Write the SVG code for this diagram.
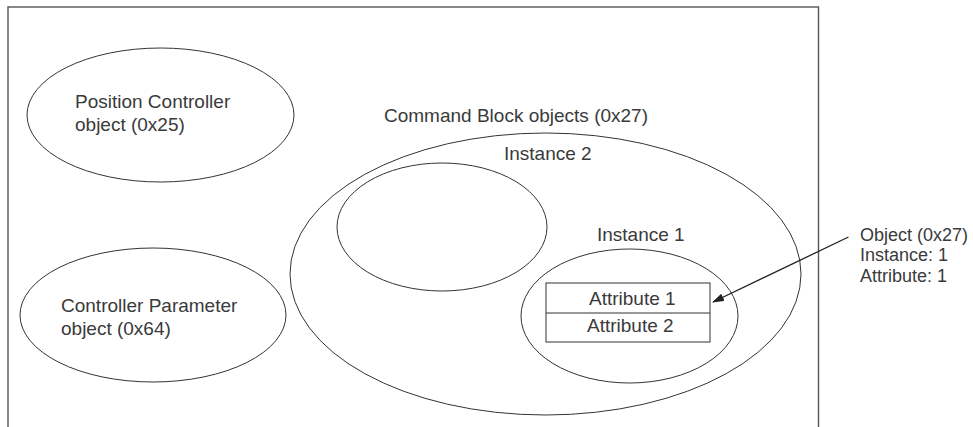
<svg xmlns="http://www.w3.org/2000/svg" width="973" height="427" viewBox="0 0 973 427">
<style>
.sh{fill:none;stroke:#333;stroke-width:1}
.fr{fill:none;stroke:#555;stroke-width:1.4}
.t{font-family:"Liberation Sans",Arial,sans-serif;font-size:19px;fill:#3a3a3a}
.ts{font-family:"Liberation Sans",Arial,sans-serif;font-size:18px;fill:#3a3a3a}
</style>
<defs>
<marker id="ah" markerWidth="12" markerHeight="10" refX="11" refY="4" orient="auto" markerUnits="userSpaceOnUse">
<path d="M0,0 L12,4 L0,8 Z" fill="#222"/>
</marker>
</defs>
<rect x="8" y="7" width="810.5" height="430" class="fr"/>
<g id="position-controller">
<ellipse cx="160.5" cy="115" rx="133.5" ry="67" class="sh"/>
<text class="t" x="75" y="107.5">Position Controller</text>
<text class="t" x="75" y="131">object (0x25)</text>
</g>
<g id="controller-parameter">
<ellipse cx="153" cy="315" rx="133" ry="67" class="sh"/>
<text class="t" x="61" y="311.5">Controller Parameter</text>
<text class="t" x="61" y="335">object (0x64)</text>
</g>
<g id="command-block">
<text class="t" x="384" y="122">Command Block objects (0x27)</text>
<ellipse cx="545.5" cy="274" rx="255.5" ry="141" class="sh"/>
</g>
<g id="instance-2">
<text class="t" x="504" y="160">Instance 2</text>
<ellipse cx="442" cy="227" rx="105" ry="64" class="sh"/>
</g>
<g id="instance-1">
<text class="t" x="597" y="241">Instance 1</text>
<ellipse cx="629.5" cy="316" rx="108.5" ry="67" class="sh"/>
</g>
<g id="attributes">
<rect x="546" y="283" width="164" height="59" class="sh"/>
<line x1="546" y1="313" x2="710" y2="313" class="sh"/>
<text class="t" x="589" y="305">Attribute 1</text>
<text class="t" x="587" y="332">Attribute 2</text>
</g>
<g id="object-label">
<text class="ts" x="860" y="241">Object (0x27)</text>
<text class="ts" x="860" y="261">Instance: 1</text>
<text class="ts" x="860" y="282">Attribute: 1</text>
</g>
<g id="connectors">
<line x1="848.5" y1="237" x2="713" y2="302" stroke="#222" stroke-width="1.3" marker-end="url(#ah)"/>
</g>
</svg>
